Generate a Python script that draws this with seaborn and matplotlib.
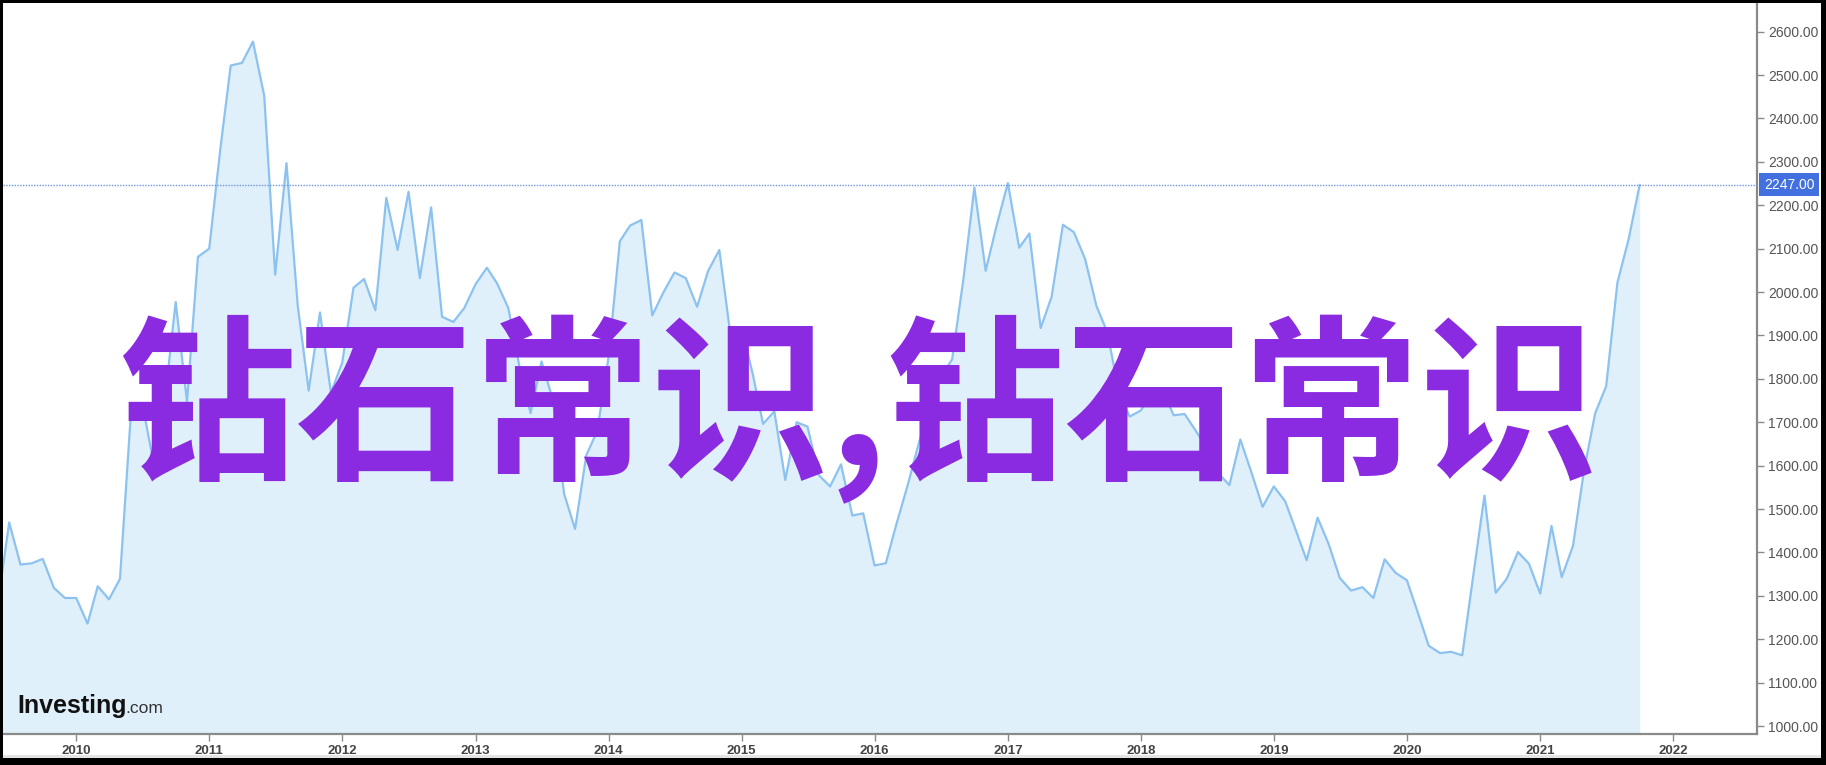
import numpy as np
import pandas as pd
import matplotlib
matplotlib.use("Agg")
import matplotlib.pyplot as plt
import matplotlib.transforms as mtransforms
from matplotlib.patches import Rectangle
from matplotlib.ticker import FuncFormatter
import seaborn as sns

# ---------------- data (monthly closes, Jun 2009 .. Oct 2021) ----------------
values_2009 = [1290, 1469, 1372, 1375, 1385, 1318, 1295]
values_2010 = [1295, 1236, 1322, 1292, 1339, 1732, 1744, 1608, 1750, 1977, 1747, 2081]
values_2011 = [2100, 2333, 2522, 2528, 2577, 2452, 2040, 2297, 1968, 1773, 1953, 1768]
values_2012 = [1837, 2010, 2030, 1958, 2217, 2097, 2231, 2032, 2195, 1943, 1931, 1963]
values_2013 = [2018, 2056, 2020, 1963, 1830, 1721, 1840, 1752, 1535, 1454, 1624, 1680]
values_2014 = [1850, 2117, 2153, 2166, 1946, 2000, 2045, 2032, 1966, 2048, 2097, 1905]
values_2015 = [1919, 1810, 1696, 1725, 1567, 1700, 1690, 1578, 1552, 1603, 1485, 1490]
values_2016 = [1370, 1375, 1465, 1555, 1650, 1742, 1804, 1845, 2030, 2241, 2049, 2153]
values_2017 = [2251, 2102, 2135, 1917, 1989, 2155, 2138, 2076, 1968, 1907, 1773, 1713]
values_2018 = [1727, 1771, 1775, 1716, 1719, 1680, 1640, 1583, 1555, 1660, 1583, 1505]
values_2019 = [1552, 1518, 1454, 1382, 1480, 1418, 1341, 1312, 1320, 1295, 1384, 1353]
values_2020 = [1336, 1259, 1185, 1168, 1171, 1163, 1345, 1531, 1307, 1339, 1401, 1374]
values_2021 = [1305, 1461, 1343, 1415, 1588, 1721, 1783, 2022, 2123, 2247]
start_month = "2009-06-01"

last_value = 2247.00
y_tick_values = list(range(1000, 2700, 100))
year_ticks = list(range(2010, 2023))
overlay_text = "钻石常识,钻石常识"
brand_main = "Investing"
brand_suffix = ".com"

values = (values_2009 + values_2010 + values_2011 + values_2012 + values_2013 +
          values_2014 + values_2015 + values_2016 + values_2017 + values_2018 +
          values_2019 + values_2020 + values_2021)
dates = pd.date_range(start_month, periods=len(values), freq="MS")
df = pd.DataFrame({"date": dates, "price": values})

# ---------------- styling ----------------
sns.set_theme(style="white")
plt.rcParams["font.family"] = ["Liberation Sans", "DejaVu Sans"]

W, H, DPI = 1826, 765, 100
fig = plt.figure(figsize=(W / DPI, H / DPI), dpi=DPI)
fig.patch.set_facecolor("white")

# plot area in pixels: left 3, right 1757, top 3, bottom 734
L, R, T, B = 3, 1757, 3, 734
ax = fig.add_axes([L / W, (H - B) / H, (R - L) / W, (B - T) / H])
ax.set_facecolor("white")

line_color = "#8cc2ef"
fill_color = "#e0f0fa"
ymin, ymax = 981.6, 2666.0

ax.fill_between(df["date"], df["price"], ymin, color=fill_color, lw=0, zorder=1)
sns.lineplot(data=df, x="date", y="price", ax=ax, color=line_color, lw=1.6, zorder=2)

ax.set_xlim(pd.Timestamp("2009-06-14"), pd.Timestamp("2022-08-19"))
ax.set_ylim(ymin, ymax)
ax.set_xlabel("")
ax.set_ylabel("")

# dotted last-price line
ax.axhline(last_value, color="#6f98e6", lw=1.0, ls=(0, (1, 1)), zorder=3)

# spines
for s in ["top", "left"]:
    ax.spines[s].set_visible(False)
for s in ["right", "bottom"]:
    ax.spines[s].set_color("#8a8a8a")
    ax.spines[s].set_linewidth(1.6)

# y axis on the right
ax.yaxis.tick_right()
ax.set_yticks(y_tick_values)
ax.yaxis.set_major_formatter(FuncFormatter(lambda v, p: f"{v:.2f}"))
ax.tick_params(axis="y", which="major", direction="out", length=5, width=1,
               color="#8a8a8a", labelcolor="#555555", labelsize=10, pad=3,
               right=True, left=False)

# x axis years
ax.set_xticks([pd.Timestamp(f"{y}-01-01") for y in year_ticks])
ax.set_xticklabels([str(y) for y in year_ticks])
ax.tick_params(axis="x", which="major", direction="out", length=5, width=1,
               color="#8a8a8a", labelcolor="#444444", labelsize=9.5, pad=3,
               bottom=True)
for lab in ax.get_xticklabels():
    lab.set_fontweight("bold")

# last value badge
trans = mtransforms.blended_transform_factory(ax.transAxes, ax.transData)
ax.text(1.0 + 7 / (R - L), last_value, f"{last_value:.2f}", transform=trans,
        ha="left", va="center", color="white", fontsize=10, zorder=5,
        clip_on=False,
        bbox=dict(boxstyle="square,pad=0.33", fc="#4270de", ec="none"))

# brand
ax.text((17 - L) / (R - L), (B - 713) / (B - T), brand_main, transform=ax.transAxes,
        ha="left", va="baseline", fontsize=18, fontweight="bold", color="#111111",
        zorder=4)
ax.text((125 - L) / (R - L), (B - 713) / (B - T), brand_suffix, transform=ax.transAxes,
        ha="left", va="baseline", fontsize=12.5, color="#333333", zorder=4)

# big overlay text
fig.text(858 / W, 1 - 410 / H, overlay_text, fontsize=128, color="#8a2be2",
         family=["Noto Sans CJK SC", "DejaVu Sans"], fontweight="bold",
         ha="center", va="center", zorder=10)

# outer frame
def px_rect(x0, y0, x1, y1, color):
    fig.patches.append(Rectangle((x0 / W, 1 - y1 / H), (x1 - x0) / W, (y1 - y0) / H,
                                 transform=fig.transFigure, facecolor=color,
                                 edgecolor="none", zorder=20))

px_rect(0, 0, W, 3, "black")
px_rect(0, 0, 3, H, "black")
px_rect(1821, 0, W, H, "black")
px_rect(3, 755, 1821, 758, "#e4e4e4")
px_rect(0, 758, W, H, "black")

fig.savefig("out.png", dpi=DPI, facecolor=fig.get_facecolor())
